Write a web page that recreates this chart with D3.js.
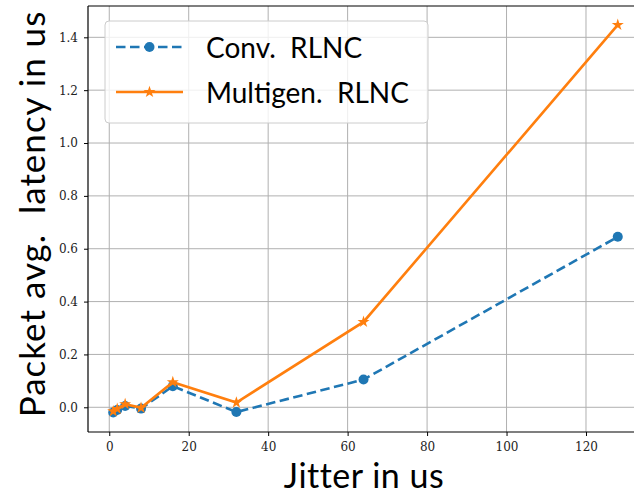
<!DOCTYPE html>
<html>
<head>
<meta charset="utf-8">
<script src="https://cdn.jsdelivr.net/npm/d3@7"></script>
<style>
  body { margin: 0; background: #fff; }
  svg { display: block; }
  .tick text { font-family: 'DejaVu Serif', 'Liberation Serif', serif; font-size: 12px; fill: #222; }
  .grid line { stroke: #b0b0b0; stroke-width: 1; }
  .lbl { font-family: Lato, sans-serif; fill: #000; }
</style>
</head>
<body>
<svg></svg>
<script>
// data
var jitter = [1, 2, 4, 8, 16, 32, 64, 128];
var convRLNC = [-0.02, -0.01, 0.005, -0.005, 0.08, -0.018, 0.105, 0.645];
var multigenRLNC = [-0.015, -0.006, 0.012, -0.002, 0.095, 0.018, 0.323, 1.447];
var xTicks = [0, 20, 40, 60, 80, 100, 120];
var yTicks = [0.0, 0.2, 0.4, 0.6, 0.8, 1.0, 1.2, 1.4];
var seriesNames = ['Conv.\u00a0\u00a0RLNC', 'Multigen.\u00a0\u00a0RLNC'];

var width = 634, height = 494;
var svg = d3.select('svg').attr('width', width).attr('height', height);

var mLeft = 88, mTop = 6, mBottom = 432;
// axes area runs past the right edge of the picture
var x = d3.scaleLinear().domain([-5.35, 134.35]).range([mLeft, 643]);
var y = d3.scaleLinear().domain([-0.0935, 1.5185]).range([mBottom, mTop]);

// grid
var grid = svg.append('g').attr('class', 'grid');
grid.selectAll('.gx').data(xTicks).enter().append('line')
  .attr('x1', d => x(d)).attr('x2', d => x(d))
  .attr('y1', mTop).attr('y2', mBottom);
grid.selectAll('.gy').data(yTicks).enter().append('line')
  .attr('x1', mLeft).attr('x2', width)
  .attr('y1', d => y(d)).attr('y2', d => y(d));

// axes
var xAxis = svg.append('g').attr('transform', 'translate(0,' + mBottom + ')')
  .call(d3.axisBottom(x).tickValues(xTicks).tickSize(4).tickPadding(6).tickFormat(d3.format('d')));
var yAxis = svg.append('g').attr('transform', 'translate(' + mLeft + ',0)')
  .call(d3.axisLeft(y).tickValues(yTicks).tickSize(4).tickPadding(6).tickFormat(d3.format('.1f')));
[xAxis, yAxis].forEach(function(a) {
  a.select('.domain').remove();
  a.selectAll('.tick line').attr('stroke', '#000').attr('stroke-width', 1);
});
// spines
svg.append('line').attr('x1', mLeft).attr('x2', width).attr('y1', mBottom).attr('y2', mBottom).attr('stroke', '#000').attr('stroke-width', 1.2);
svg.append('line').attr('x1', mLeft).attr('x2', width).attr('y1', mTop).attr('y2', mTop).attr('stroke', '#000').attr('stroke-width', 1.2);
svg.append('line').attr('x1', mLeft).attr('x2', mLeft).attr('y1', mTop).attr('y2', mBottom).attr('stroke', '#000').attr('stroke-width', 1.2);

var line = d3.line().x(d => x(d[0])).y(d => y(d[1]));
var convPts = jitter.map((j, i) => [j, convRLNC[i]]);
var multiPts = jitter.map((j, i) => [j, multigenRLNC[i]]);

svg.append('path').datum(convPts).attr('d', line)
  .attr('fill', 'none').attr('stroke', '#1f77b4').attr('stroke-width', 2.6)
  .attr('stroke-dasharray', '9.5,4.5');
svg.selectAll('.cdot').data(convPts).enter().append('circle')
  .attr('cx', d => x(d[0])).attr('cy', d => y(d[1])).attr('r', 5)
  .attr('fill', '#1f77b4');

svg.append('path').datum(multiPts).attr('d', line)
  .attr('fill', 'none').attr('stroke', '#ff7f0e').attr('stroke-width', 2.6);
var star = d3.symbol().type(d3.symbolStar).size(45);
svg.selectAll('.mstar').data(multiPts).enter().append('path')
  .attr('d', star)
  .attr('transform', d => 'translate(' + x(d[0]) + ',' + y(d[1]) + ')')
  .attr('fill', '#ff7f0e');

// labels
svg.append('text').attr('class', 'lbl').attr('x', 364).attr('y', 488).attr('text-anchor', 'middle')
  .style('font-size', '34px').style('letter-spacing', '0.5px').text('Jitter in us');
svg.append('text').attr('class', 'lbl').attr('transform', 'translate(45,214) rotate(-90)').attr('text-anchor', 'middle')
  .style('font-size', '35px').style('letter-spacing', '1px').text('Packet avg.\u00a0\u00a0latency in us');

// legend
var lg = svg.append('g');
lg.append('rect').attr('x', 105).attr('y', 21).attr('width', 323).attr('height', 102).attr('rx', 4)
  .attr('fill', '#fff').attr('fill-opacity', 0.8).attr('stroke', '#ccc');
lg.append('line').attr('x1', 116).attr('x2', 183).attr('y1', 47).attr('y2', 47)
  .attr('stroke', '#1f77b4').attr('stroke-width', 2.6).attr('stroke-dasharray', '9.5,4.5');
lg.append('circle').attr('cx', 149.5).attr('cy', 47).attr('r', 5).attr('fill', '#1f77b4');
lg.append('line').attr('x1', 116).attr('x2', 183).attr('y1', 92).attr('y2', 92)
  .attr('stroke', '#ff7f0e').attr('stroke-width', 2.6);
lg.append('path').attr('d', star).attr('transform', 'translate(149.5,92)').attr('fill', '#ff7f0e');
lg.selectAll('.lt').data(seriesNames).enter().append('text').attr('class', 'lbl')
  .attr('x', 206).attr('y', (d, i) => 58 + i * 45)
  .style('font-size', '28px').text(d => d);
</script>
</body>
</html>
